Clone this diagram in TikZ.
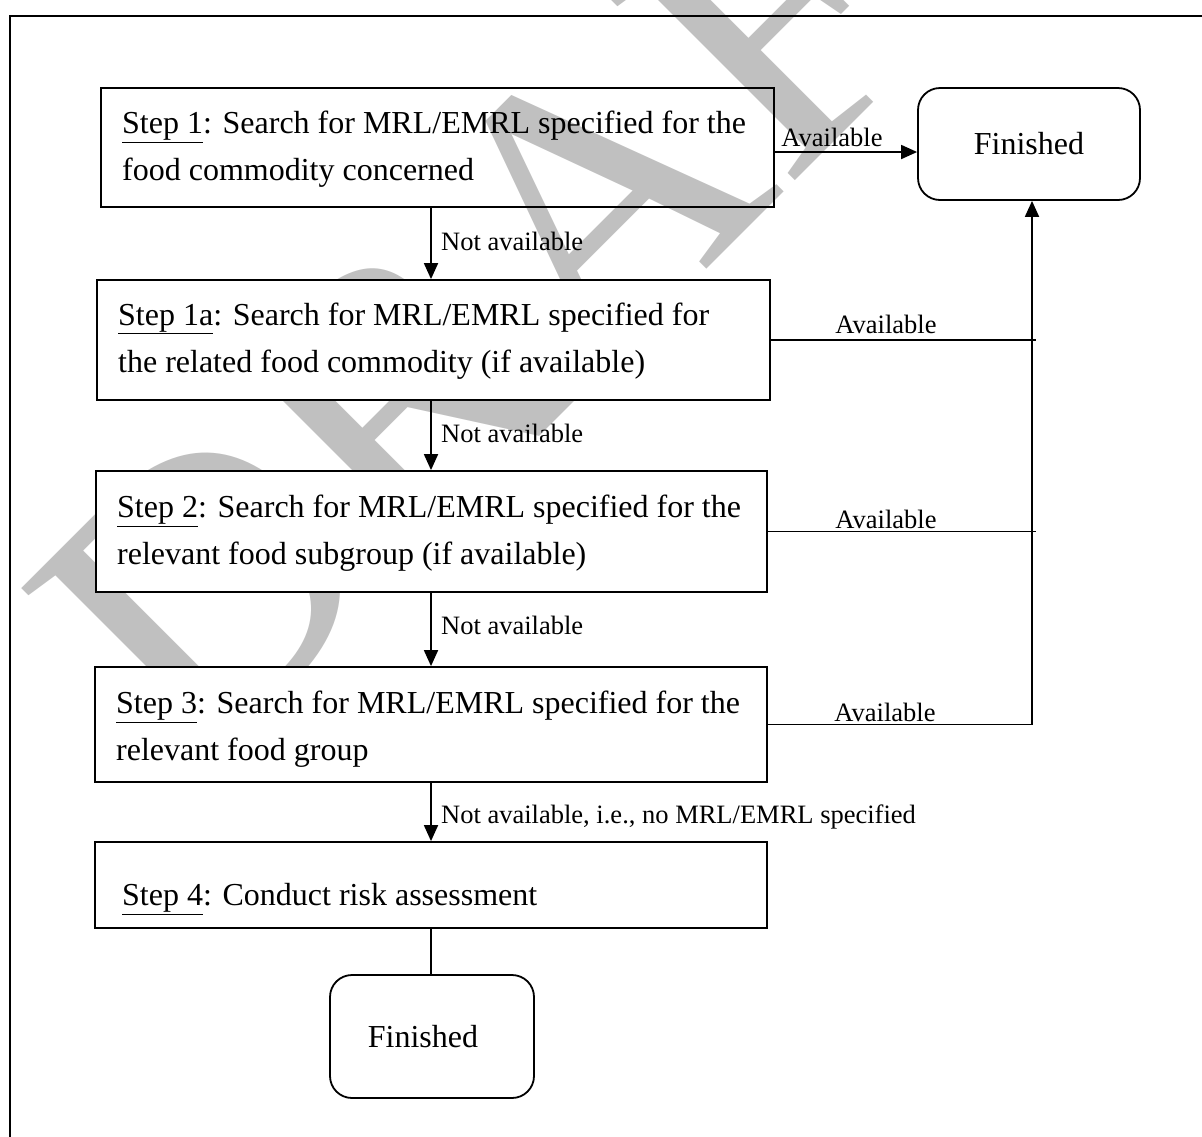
\documentclass[tikz,border=0pt]{standalone}
\usepackage{fontspec}
\setmainfont{Liberation Serif}
\usetikzlibrary{arrows.meta,calc}
\definecolor{wmgray}{HTML}{C0C0C0}
\begin{document}
\begin{tikzpicture}[x=1pt,y=-1pt,
  lw/.style={line width=1.8pt},
  stepbox/.style={draw,lw,inner sep=0pt,minimum width=#1},
  endbox/.style={draw,lw,fill=white,rounded corners=22pt,inner sep=0pt,font=\fontsize{32}{38}\selectfont},
  steptext/.style={anchor=west,inner sep=0pt,align=left,font=\fontsize{32}{47}\selectfont},
  lbl/.style={inner sep=0pt,font=\fontsize{26.5}{30}\selectfont},
  arr/.style={lw,-{Triangle[length=16pt,width=14pt]}},
  conn/.style={lw}]
\useasboundingbox (0,0) rectangle (1202,1136);
\clip (0,0) rectangle (1202,1136);
% watermark
\node[anchor=base west,rotate=45,inner sep=0pt,text=wmgray,font=\fontsize{395}{395}\selectfont] (wmk) at (196,780) {DRAFT};
% outer frame
\coordinate (fr1) at (10,1200);
\coordinate (fr2) at (10,16);
\coordinate (fr3) at (1260,16);
\draw[lw] (fr1) -- (fr2) -- (fr3);
% boxes
\node[stepbox=673pt,minimum height=119pt] (s1) at (437.5,147.5) {};
\node[stepbox=673pt,minimum height=120pt,fill=white] (s1a) at (433.5,340) {};
\node[stepbox=671pt,minimum height=121pt,fill=white] (s2) at (431.5,531.5) {};
\node[stepbox=672pt,minimum height=115pt,fill=white] (s3) at (431,724.5) {};
\node[stepbox=672pt,minimum height=86pt,fill=white] (s4) at (431,885) {};
\node[endbox,minimum width=222pt,minimum height=112pt] (f1) at (1029,144) {Finished};
\node[endbox,minimum width=204pt,minimum height=123pt] (f2) at (432,1036.5) {\hspace*{-18pt}Finished};
% texts
\node[steptext] (t1) at (122,149.5) {\underline{Step 1}: Search for MRL/EMRL specified for the\\food commodity concerned};
\node[steptext] (t1a) at (118,341) {\underline{Step 1a}: Search for MRL/EMRL specified for\\the related food commodity (if available)};
\node[steptext] (t2) at (117,533.5) {\underline{Step 2}: Search for MRL/EMRL specified for the\\relevant food subgroup (if available)};
\node[steptext] (t3) at (116,729.5) {\underline{Step 3}: Search for MRL/EMRL specified for the\\relevant food group};
\node[steptext] (t4) at (122,899) {\underline{Step 4}: Conduct risk assessment};
% helper coordinates
\coordinate (cx) at (431,0);
\coordinate (vx) at (1032,0);
\coordinate (hx) at (1036,0);
% down arrows
\draw[arr] (s1.south -| cx) -- (s1a.north -| cx);
\draw[arr] (s1a.south -| cx) -- (s2.north -| cx);
\draw[arr] (s2.south -| cx) -- (s3.north -| cx);
\draw[arr] (s3.south -| cx) -- (s4.north -| cx);
\draw[conn] (s4.south -| cx) -- (f2.north -| cx);
% available arrows
\coordinate (a1) at ($(s1.east)+(0,4.5)$);
\draw[arr] (a1) -- (a1 -| f1.west);
\draw[conn] (s1a.east) -- (s1a.east -| hx);
\draw[conn] (s2.east) -- (s2.east -| hx);
\draw[conn] (s3.east) -- (s3.east -| vx);
\draw[arr] (s3.east -| vx) -- (vx |- f1.south);
% labels
\node[lbl,anchor=west] (n1) at (441,241) {Not available};
\node[lbl,anchor=west] (n2) at (441,433) {Not available};
\node[lbl,anchor=west] (n3) at (441,625) {Not available};
\node[lbl,anchor=west] (n4) at (441,817) {Not available, i.e., no MRL/EMRL specified};
\node[lbl] (v1) at (832,137) {Available};
\node[lbl] (v2) at (886,324) {Available};
\node[lbl] (v3) at (886,519) {Available};
\node[lbl] (v4) at (885,712) {Available};
\end{tikzpicture}
\end{document}
